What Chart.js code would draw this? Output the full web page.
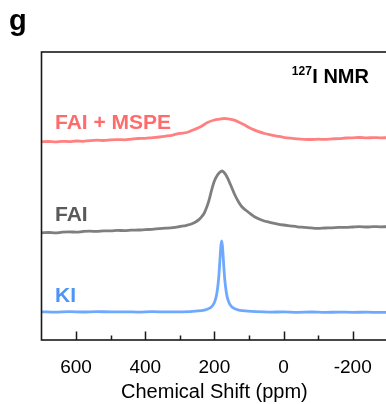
<!DOCTYPE html>
<html>
<head>
<meta charset="utf-8">
<script src="https://cdn.jsdelivr.net/npm/chart.js@4.4.1/dist/chart.umd.min.js"></script>
<style>
html,body{margin:0;padding:0;background:#fff;overflow:hidden;width:386px;height:404px;}
#wrap{position:absolute;left:0;top:0;width:400px;height:404px;}
</style>
</head>
<body>
<div id="wrap"><canvas id="c" width="400" height="404"></canvas></div>
<script>
// ---- data (chemical shift in ppm, stacked intensity in arbitrary units) ----
const seriesNames = ["FAI + MSPE", "FAI", "KI"];

const ppmMSPE = [700,680,660,640,620,600,580,560,540,520,500,480,460,440,420,400,380,360,340,320,300,280,260,240,220,200,185,172,160,145,130,115,100,85,70,55,40,20,0,-20,-40,-60,-80,-100,-120,-140,-160,-180,-200,-220,-240,-260,-280,-300];
const intMSPE = [68.82,68.92,68.78,68.99,68.89,69.10,68.99,69.24,69.38,69.27,69.48,69.58,69.51,69.76,69.97,70.00,70.28,70.49,70.80,71.18,71.74,72.05,72.99,74.03,75.52,76.39,76.67,76.91,76.81,76.42,75.69,74.79,73.82,72.95,72.26,71.70,71.28,70.83,70.38,70.07,69.83,69.69,69.62,69.72,69.65,69.83,69.93,70.14,70.21,70.31,70.17,70.28,70.21,70.24];

const ppmFAI = [700,680,660,640,620,600,580,560,540,520,500,480,460,440,420,400,380,360,340,320,300,280,265,250,240,230,222,215,208,200,192,185,178,172,165,158,150,140,130,120,108,95,80,60,40,20,0,-20,-40,-60,-80,-100,-120,-140,-160,-180,-200,-220,-240,-260,-280,-300];
const intFAI = [37.22,37.33,37.19,37.43,37.53,37.47,37.67,37.78,37.71,37.92,37.88,38.06,37.99,38.16,38.19,38.33,38.44,38.65,38.82,39.03,39.41,39.83,40.35,41.32,42.36,43.92,46.18,48.78,52.08,55.21,57.12,58.16,58.68,58.16,56.94,55.21,52.95,50.17,47.92,46.18,44.97,43.75,42.53,41.49,40.87,40.35,39.93,39.62,39.31,39.13,38.92,38.78,38.89,38.96,39.10,39.13,39.24,39.34,39.24,39.38,39.31,39.34];

const ppmKI = [700,660,620,580,540,500,460,420,380,340,300,270,254,229,215,205,198,193,189,186.5,184,181.5,179,176.5,174,171.5,169,165,160,153,143,129,104,80,40,0,-40,-80,-120,-160,-200,-240,-280,-300];
const intKI = [9.79,9.69,9.83,9.72,9.86,9.76,9.79,9.69,9.83,9.76,9.79,9.86,10.03,10.38,10.97,11.98,13.68,16.15,19.79,23.26,27.81,32.29,34.38,32.29,27.81,23.26,19.79,16.15,13.68,11.98,10.97,10.38,10.03,9.83,9.69,9.76,9.62,9.72,9.58,9.69,9.62,9.65,9.58,9.62];

const majorTicks = [600, 400, 200, 0, -200];
const minorTicks = [500, 300, 100, -100];

const FONT = "'Liberation Sans', Arial, Helvetica, sans-serif";
const colMSPE = "#FF8080", colFAI = "#7F7F7F", colKI = "#6FA8FF";
const labMSPE = "#FF6B6B", labFAI = "#595959", labKI = "#4D94F7";

function pts(xs, ys){ return xs.map((x,i)=>({x:x, y:ys[i]})); }

const decor = {
  id: 'decor',
  afterDatasetsDraw(chart){
    const {ctx, chartArea:a, scales:{x, y}} = chart;
    ctx.save();
    // frame
    ctx.strokeStyle = "#1a1a1a";
    ctx.lineWidth = 1.6;
    ctx.strokeRect(a.left, a.top, a.right - a.left, a.bottom - a.top);
    // inward ticks
    ctx.lineWidth = 1.5;
    ctx.beginPath();
    majorTicks.forEach(v=>{ const px = Math.round(x.getPixelForValue(v)) + 0.5; ctx.moveTo(px, a.bottom); ctx.lineTo(px, a.bottom - 8.5); });
    minorTicks.forEach(v=>{ const px = Math.round(x.getPixelForValue(v)) + 0.5; ctx.moveTo(px, a.bottom); ctx.lineTo(px, a.bottom - 4.5); });
    ctx.stroke();
    // series labels
    ctx.font = "bold 21px " + FONT;
    ctx.textBaseline = "middle";
    ctx.textAlign = "left";
    const lx = x.getPixelForValue(661);
    ctx.fillStyle = labMSPE; ctx.fillText(seriesNames[0], lx, y.getPixelForValue(75.3));
    ctx.fillStyle = labFAI;  ctx.fillText(seriesNames[1], lx, y.getPixelForValue(43.4));
    ctx.fillStyle = labKI;   ctx.fillText(seriesNames[2], lx, y.getPixelForValue(15.3));
    // 127I NMR
    ctx.fillStyle = "#000";
    ctx.textBaseline = "alphabetic";
    ctx.textAlign = "right";
    const rx = x.getPixelForValue(-247), by = y.getPixelForValue(89.3);
    ctx.font = "bold 20px " + FONT;
    ctx.fillText("I NMR", rx, by);
    const w = ctx.measureText("I NMR").width;
    ctx.font = "bold 12px " + FONT;
    ctx.fillText("127", rx - w - 0.5, by - 8);
    ctx.restore();
    // panel letter
    ctx.save();
    ctx.fillStyle = "#000";
    ctx.font = "bold 29px " + FONT;
    ctx.textBaseline = "alphabetic";
    ctx.textAlign = "left";
    ctx.fillText("g", 9, 30);
    ctx.restore();
  }
};

new Chart(document.getElementById('c'), {
  type: 'line',
  data: {
    datasets: [
      {label: seriesNames[0], data: pts(ppmMSPE, intMSPE), borderColor: colMSPE},
      {label: seriesNames[1], data: pts(ppmFAI, intFAI), borderColor: colFAI},
      {label: seriesNames[2], data: pts(ppmKI, intKI), borderColor: colKI}
    ]
  },
  options: {
    responsive: false,
    animation: false,
    events: [],
    elements: {
      point: {radius: 0},
      line: {borderWidth: 2.8, cubicInterpolationMode: 'monotone', borderCapStyle: 'round', borderJoinStyle: 'round'}
    },
    layout: {padding: {left: 41.5, right: 12.7, top: 52, bottom: 0}},
    plugins: {legend: {display: false}, tooltip: {enabled: false}, title: {display: false}},
    scales: {
      x: {
        type: 'linear', min: -300, max: 700, reverse: true,
        grid: {display: false},
        border: {display: false},
        afterBuildTicks(s){ s.ticks = majorTicks.map(v=>({value: v})); },
        afterFit(s){ s.height = 64; },
        ticks: {color: "#000", font: {family: FONT, size: 19}, padding: 8, maxRotation: 0, autoSkip: false,
                callback: v => String(v)},
        title: {display: true, text: "Chemical Shift (ppm)", color: "#000",
                font: {family: FONT, size: 20}, padding: {top: 0, bottom: 0}}
      },
      y: {type: 'linear', min: 0, max: 100, display: false}
    }
  },
  plugins: [decor]
});
</script>
</body>
</html>
